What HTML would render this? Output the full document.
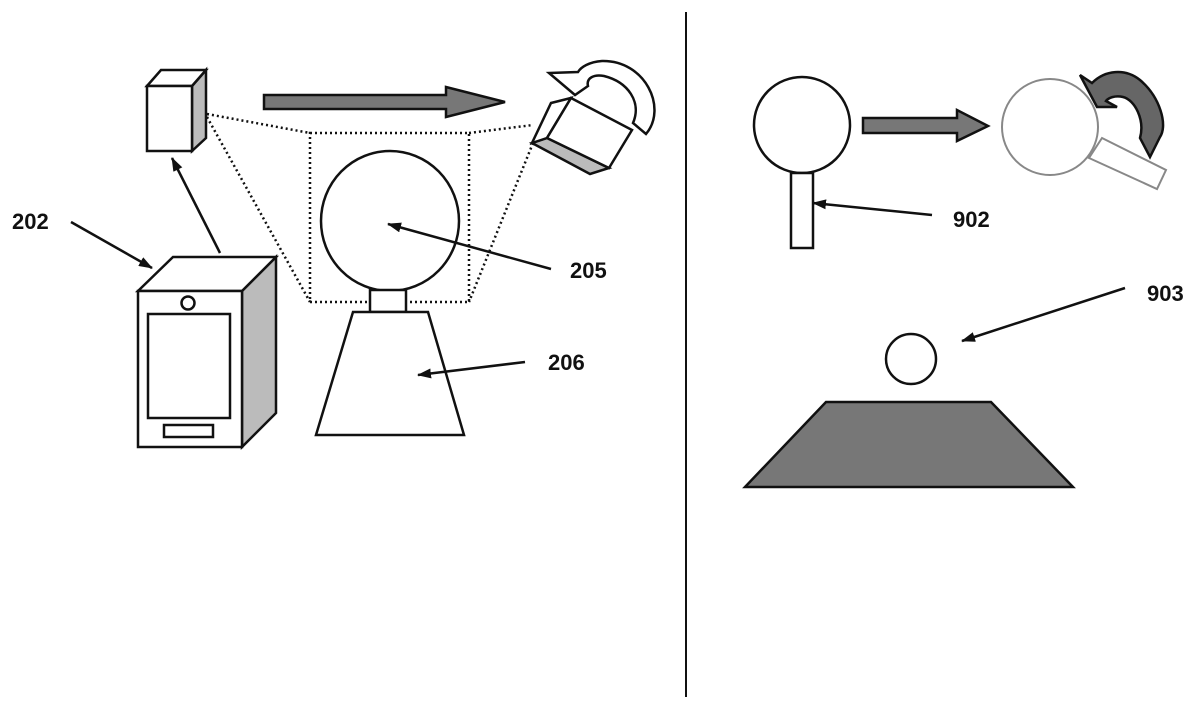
<!DOCTYPE html>
<html><head><meta charset="utf-8"><style>
html,body{margin:0;padding:0;background:#fff;}
svg{display:block;}
text{font-family:"Liberation Sans",Arial,sans-serif;font-weight:bold;font-size:22px;fill:#111;}
</style></head><body>
<svg width="1200" height="709" viewBox="0 0 1200 709" xmlns="http://www.w3.org/2000/svg">
<defs>
<marker id="ah" markerWidth="14" markerHeight="10" refX="13" refY="5" orient="auto" markerUnits="userSpaceOnUse">
<path d="M0,0 L14,5 L0,10 Z" fill="#111"/></marker>
</defs>
<g stroke="#111" stroke-width="2.5" fill="none" stroke-linejoin="miter">
<line x1="686" y1="12" x2="686" y2="697" stroke-width="2"/>

<polygon points="192,86 206,70 206,138 192,151" fill="#bbb"/>
<polygon points="147,86 161,70 206,70 192,86" fill="#fff"/>
<rect x="147" y="86" width="45" height="65" fill="#fff"/>

<polygon points="264,95 446,95 446,87 505,102 446,117 446,109 264,109" fill="#777"/>

<g stroke-dasharray="2,3" stroke-width="2.5">
<rect x="310" y="133" width="159" height="169"/>
<line x1="207" y1="114" x2="310" y2="133"/>
<line x1="469" y1="133" x2="533" y2="125"/>
<line x1="207" y1="117" x2="310" y2="302"/>
<line x1="533" y1="143" x2="469" y2="302"/>
</g>

<polygon points="547,138 609,168 590,174 532,143" fill="#bbb"/>
<polygon points="551,103 571,98 547,138 532,143" fill="#fff"/>
<polygon points="571,98 632,130 609,168 547,138" fill="#fff"/>
<path d="M646,134 C668,108 645,60 602,61 C589,62 581,67 578,72 L549,73 L575,95 L588,86 C586,78 594,74 604,76 C628,82 642,102 633,123 Z" fill="#fff"/>

<ellipse cx="390" cy="221" rx="69" ry="70" fill="#fff"/>
<rect x="370" y="290" width="36" height="22" fill="#fff"/>
<polygon points="353,312 428,312 464,435 316,435" fill="#fff"/>

<polygon points="242,291 276,257 276,413 242,447" fill="#bbb"/>
<polygon points="138,291 173,257 276,257 242,291" fill="#fff"/>
<rect x="138" y="291" width="104" height="156" fill="#fff"/>
<circle cx="188" cy="303" r="6.5" fill="#fff"/>
<rect x="148" y="314" width="82" height="104"/>
<rect x="164" y="425" width="49" height="12"/>

<line x1="71" y1="222" x2="152" y2="268" marker-end="url(#ah)"/>
<line x1="220" y1="253" x2="172" y2="158" marker-end="url(#ah)"/>
<line x1="551" y1="269" x2="388" y2="224" marker-end="url(#ah)"/>
<line x1="525" y1="362" x2="418" y2="375" marker-end="url(#ah)"/>

<circle cx="802" cy="125" r="48" fill="#fff"/>
<rect x="791" y="173" width="22" height="75" fill="#fff"/>
<polygon points="863,118 957,118 957,110 988,126 957,141 957,133 863,133" fill="#777"/>
<polygon points="1102,138 1166,170 1157,189 1089,158" fill="#fff" stroke="#888" stroke-width="2"/>
<circle cx="1050" cy="127" r="48" fill="none" stroke="#888" stroke-width="2"/>
<path d="M1080,75 L1092,83 C1105,70 1125,68 1140,80 C1160,97 1168,125 1160,137 L1150,157 L1140,138 C1145,120 1135,100 1123,97 C1115,95 1108,98 1106,101 L1117,107 L1097,107 Z" fill="#666"/>
<line x1="932" y1="215" x2="813" y2="203" marker-end="url(#ah)"/>
<line x1="1125" y1="288" x2="962" y2="341" marker-end="url(#ah)"/>
<circle cx="911" cy="359" r="25" fill="#fff"/>
<polygon points="826,402 991,402 1073,487 745,487" fill="#777"/>
</g>

<text x="12" y="229">202</text>
<text x="570" y="278">205</text>
<text x="548" y="370">206</text>
<text x="953" y="227">902</text>
<text x="1147" y="301">903</text>
</svg>
</body></html>
